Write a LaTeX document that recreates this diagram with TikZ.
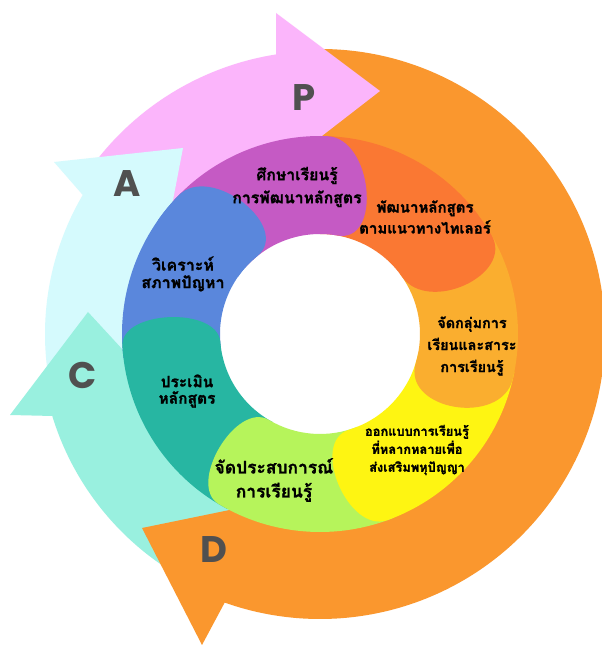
\documentclass[tikz,border=0pt]{standalone}
\usepackage{fontspec}
\usetikzlibrary{calc}
\newfontfamily\thaifont[Script=Thai, BoldFeatures={FakeBold=1.2}]{Loma}
\newfontfamily\letterfont{Poppins}
\definecolor{cP}{HTML}{FBB5FB}
\definecolor{cA}{HTML}{D5FAFD}
\definecolor{cC}{HTML}{99F0DF}
\definecolor{cD}{HTML}{FA972E}
\definecolor{sPurple}{HTML}{C55AC4}
\definecolor{sOrangeRed}{HTML}{FA7833}
\definecolor{sOrangeYel}{HTML}{FAAE2F}
\definecolor{sYellow}{HTML}{FEF512}
\definecolor{sGreen}{HTML}{B6F45B}
\definecolor{sTeal}{HTML}{27B6A2}
\definecolor{sBlue}{HTML}{5A87DC}
\definecolor{letterGray}{HTML}{505050}
\newcommand\ringseg[5]{%
  \pgfmathsetmacro\tgo{#2-90}\pgfmathsetmacro\tgi{#3-90}%
  \fill[#4] ($(O)+(#1:198)$) arc[start angle=#1, end angle=#2, radius=198]
    .. controls +(\tgo:#5) and +(\tgi:#5) .. ($(O)+(#3:100)$)
    arc[start angle=#3, end angle=#1, radius=100] -- cycle;}
\newcommand\arrowshaft[5]{%
  \fill[#5] ($(O)+(#1:#4)$) arc[start angle=#1, end angle=#2, radius=#4]
    -- ($(O)+(#2:#3)$) arc[start angle=#2, end angle=#1, radius=#3] -- cycle;}
\tikzset{
  lbl/.style={align=center, text=black, inner sep=0pt},
  letter/.style={font=\letterfont\bfseries\fontsize{37}{37}\selectfont, text=letterGray, inner sep=0pt}
}
\begin{document}
\begin{tikzpicture}[x=1pt,y=1pt]
\useasboundingbox (0,0) rectangle (602,646);
\fill[white] (0,0) rectangle (602,646);
\coordinate (O) at (320,312);
% arrow shafts
\arrowshaft{92}{-112}{190}{285}{cD}
\arrowshaft{248}{195}{190}{280}{cC}
\arrowshaft{193}{145}{190}{275}{cA}
\arrowshaft{146}{96}{190}{283}{cP}
% arrow heads
\coordinate (dTip) at (142,118);
\coordinate (dOut) at (202,1);
\coordinate (dIn) at (279.7,146.3);
\fill[cD] (dTip) -- (dOut) -- (dIn) -- cycle;
\coordinate (cTip) at (88,334);
\coordinate (cOut) at (10,231);
\coordinate (cIn) at (186.7,226.9);
\fill[cC] (cTip) -- (cOut) -- (cIn) -- cycle;
\coordinate (aTip) at (183,498);
\coordinate (aOut) at (54,484);
\coordinate (aIn) at (157.5,365.2);
\fill[cA] (aTip) -- (aOut) -- (aIn) -- cycle;
\coordinate (pTip) at (380,555);
\coordinate (pOut) at (276,633);
\coordinate (pIn) at (276,474.5);
\fill[cP] (pTip) -- (pOut) -- (pIn) -- cycle;
% ring segments
\ringseg{187}{135.6}{129}{sBlue}{46}
\ringseg{-118}{-176.5}{-175.4}{sTeal}{36}
\ringseg{-68}{-120.7}{-120.7}{sGreen}{38}
\ringseg{-11}{-70}{-73}{sYellow}{42}
\ringseg{37}{-13}{-16.6}{sOrangeYel}{50}
\ringseg{90}{30}{35}{sOrangeRed}{46}
\ringseg{138}{88}{80}{sPurple}{46}
\ringseg{145}{135.6}{129}{sBlue}{46}
% letters
\node[letter] (lP) at (304,548) {P};
\node[letter] (lA) at (127,462) {A};
\node[letter] (lC) at (83,271) {C};
\node[letter] (lD) at (214,96) {D};
% labels
\node[lbl, font=\thaifont\bfseries\fontsize{15.8}{23}\selectfont] (t1) at (297,459) {ศึกษาเรียนรู้\\การพัฒนาหลักสูตร};
\node[lbl, font=\thaifont\bfseries\fontsize{15}{21}\selectfont] (t2) at (425,429) {พัฒนาหลักสูตร\\ตามแนวทางไทเลอร์};
\node[lbl, font=\thaifont\bfseries\fontsize{16}{17.5}\selectfont] (t3) at (183,372) {วิเคราะห์\\สภาพปัญหา};
\node[lbl, font=\thaifont\bfseries\fontsize{14.4}{22}\selectfont] (t4) at (472,300) {จัดกลุ่มการ\\เรียนและสาระ\\การเรียนรู้};
\node[lbl, font=\thaifont\bfseries\fontsize{15.5}{16.5}\selectfont] (t5) at (187,255) {ประเมิน\\หลักสูตร};
\node[lbl, font=\thaifont\bfseries\fontsize{12.8}{18}\selectfont] (t6) at (417,196) {ออกแบบการเรียนรู้\\ที่หลากหลายเพื่อ\\ส่งเสริมพหุปัญญา};
\node[lbl, font=\thaifont\bfseries\fontsize{17.4}{24}\selectfont] (t7) at (274,166) {จัดประสบการณ์\\การเรียนรู้};
\end{tikzpicture}
\end{document}
